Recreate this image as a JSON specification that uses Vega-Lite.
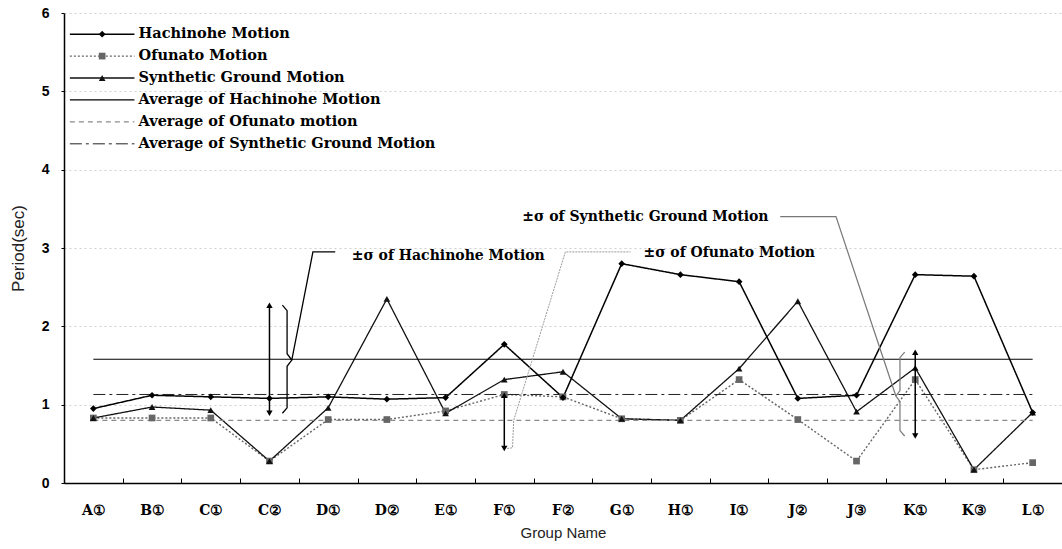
{
  "$schema": "https://vega.github.io/schema/vega-lite/v6.json",
  "width": 998,
  "height": 470,
  "autosize": {"type": "none"},
  "padding": {"left": 64, "top": 13, "right": 0, "bottom": 66},
  "config": {"view": {"stroke": null}, "font": "Liberation Sans"},
  "datasets": {
    "series": [
      {"s": "Ofunato", "g": "A①", "v": 0.83}, {"s": "Ofunato", "g": "B①", "v": 0.83}, {"s": "Ofunato", "g": "C①", "v": 0.83},
      {"s": "Ofunato", "g": "C②", "v": 0.28}, {"s": "Ofunato", "g": "D①", "v": 0.81}, {"s": "Ofunato", "g": "D②", "v": 0.81},
      {"s": "Ofunato", "g": "E①", "v": 0.92}, {"s": "Ofunato", "g": "F①", "v": 1.13}, {"s": "Ofunato", "g": "F②", "v": 1.10},
      {"s": "Ofunato", "g": "G①", "v": 0.82}, {"s": "Ofunato", "g": "H①", "v": 0.80}, {"s": "Ofunato", "g": "I①", "v": 1.32},
      {"s": "Ofunato", "g": "J②", "v": 0.81}, {"s": "Ofunato", "g": "J③", "v": 0.28}, {"s": "Ofunato", "g": "K①", "v": 1.32},
      {"s": "Ofunato", "g": "K③", "v": 0.17}, {"s": "Ofunato", "g": "L①", "v": 0.26},
      {"s": "Synthetic", "g": "A①", "v": 0.83}, {"s": "Synthetic", "g": "B①", "v": 0.97}, {"s": "Synthetic", "g": "C①", "v": 0.93},
      {"s": "Synthetic", "g": "C②", "v": 0.28}, {"s": "Synthetic", "g": "D①", "v": 0.96}, {"s": "Synthetic", "g": "D②", "v": 2.35},
      {"s": "Synthetic", "g": "E①", "v": 0.89}, {"s": "Synthetic", "g": "F①", "v": 1.32}, {"s": "Synthetic", "g": "F②", "v": 1.42},
      {"s": "Synthetic", "g": "G①", "v": 0.82}, {"s": "Synthetic", "g": "H①", "v": 0.80}, {"s": "Synthetic", "g": "I①", "v": 1.46},
      {"s": "Synthetic", "g": "J②", "v": 2.32}, {"s": "Synthetic", "g": "J③", "v": 0.91}, {"s": "Synthetic", "g": "K①", "v": 1.47},
      {"s": "Synthetic", "g": "K③", "v": 0.17}, {"s": "Synthetic", "g": "L①", "v": 0.90},
      {"s": "Hachinohe", "g": "A①", "v": 0.95}, {"s": "Hachinohe", "g": "B①", "v": 1.12}, {"s": "Hachinohe", "g": "C①", "v": 1.10},
      {"s": "Hachinohe", "g": "C②", "v": 1.08}, {"s": "Hachinohe", "g": "D①", "v": 1.10}, {"s": "Hachinohe", "g": "D②", "v": 1.07},
      {"s": "Hachinohe", "g": "E①", "v": 1.09}, {"s": "Hachinohe", "g": "F①", "v": 1.77}, {"s": "Hachinohe", "g": "F②", "v": 1.09},
      {"s": "Hachinohe", "g": "G①", "v": 2.80}, {"s": "Hachinohe", "g": "H①", "v": 2.66}, {"s": "Hachinohe", "g": "I①", "v": 2.57},
      {"s": "Hachinohe", "g": "J②", "v": 1.08}, {"s": "Hachinohe", "g": "J③", "v": 1.12}, {"s": "Hachinohe", "g": "K①", "v": 2.66},
      {"s": "Hachinohe", "g": "K③", "v": 2.64}, {"s": "Hachinohe", "g": "L①", "v": 0.90},
      {"s": "AvgH", "g": "A①", "v": 1.58}, {"s": "AvgH", "g": "L①", "v": 1.58},
      {"s": "AvgO", "g": "A①", "v": 0.80}, {"s": "AvgO", "g": "L①", "v": 0.80},
      {"s": "AvgS", "g": "A①", "v": 1.13}, {"s": "AvgS", "g": "L①", "v": 1.13}
    ],
    "arrows": [
      {"g": "C②", "lo": 0.89, "hi": 2.27},
      {"g": "F①", "lo": 0.44, "hi": 1.12},
      {"g": "K①", "lo": 0.60, "hi": 1.67}
    ],
    "paths": [
      {"id": "Hbrace", "k": 1, "u": 3.72, "v": 2.27}, {"id": "Hbrace", "k": 2, "u": 3.80, "v": 2.20},
      {"id": "Hbrace", "k": 3, "u": 3.80, "v": 1.65}, {"id": "Hbrace", "k": 4, "u": 3.88, "v": 1.57},
      {"id": "Hbrace", "k": 5, "u": 3.80, "v": 1.49}, {"id": "Hbrace", "k": 6, "u": 3.80, "v": 0.96},
      {"id": "Hbrace", "k": 7, "u": 3.72, "v": 0.89},
      {"id": "Hlead", "k": 1, "u": 3.88, "v": 1.57}, {"id": "Hlead", "k": 2, "u": 4.24, "v": 2.95},
      {"id": "Hlead", "k": 3, "u": 4.62, "v": 2.95},
      {"id": "Olead", "k": 1, "u": 7.55, "v": 0.44}, {"id": "Olead", "k": 2, "u": 7.64, "v": 0.45},
      {"id": "Olead", "k": 3, "u": 7.66, "v": 0.80}, {"id": "Olead", "k": 4, "u": 8.54, "v": 2.95},
      {"id": "Olead", "k": 5, "u": 9.65, "v": 2.95},
      {"id": "Sbrace", "k": 1, "u": 14.32, "v": 1.67}, {"id": "Sbrace", "k": 2, "u": 14.24, "v": 1.60},
      {"id": "Sbrace", "k": 3, "u": 14.24, "v": 1.18}, {"id": "Sbrace", "k": 4, "u": 14.17, "v": 1.11},
      {"id": "Sbrace", "k": 5, "u": 14.24, "v": 1.04}, {"id": "Sbrace", "k": 6, "u": 14.24, "v": 0.67},
      {"id": "Sbrace", "k": 7, "u": 14.32, "v": 0.60},
      {"id": "Slead", "k": 1, "u": 14.17, "v": 1.11}, {"id": "Slead", "k": 2, "u": 13.15, "v": 3.40},
      {"id": "Slead", "k": 3, "u": 12.2, "v": 3.40}
    ],
    "notes": [
      {"t": "±σ of Hachinohe Motion", "u": 4.9, "v": 2.9, "side": "left"},
      {"t": "±σ of Ofunato Motion", "u": 9.87, "v": 2.93, "side": "left"},
      {"t": "±σ of Synthetic Ground Motion", "u": 12.0, "v": 3.4, "side": "right"}
    ],
    "legend": [
      {"s": "Hachinohe", "label": "Hachinohe Motion", "v": 5.73},
      {"s": "Ofunato", "label": "Ofunato Motion", "v": 5.45},
      {"s": "Synthetic", "label": "Synthetic Ground Motion", "v": 5.17},
      {"s": "AvgH", "label": "Average of Hachinohe Motion", "v": 4.89},
      {"s": "AvgO", "label": "Average of Ofunato motion", "v": 4.61},
      {"s": "AvgS", "label": "Average of Synthetic Ground Motion", "v": 4.33}
    ]
  },
  "resolve": {"scale": {"x": "independent"}},
  "layer": [
    {
      "data": {"name": "series"},
      "encoding": {
        "x": {
          "field": "g", "type": "nominal",
          "scale": {"type": "band", "paddingInner": 0, "paddingOuter": 0,
            "domain": ["A①","B①","C①","C②","D①","D②","E①","F①","F②","G①","H①","I①","J②","J③","K①","K③","L①"]},
          "axis": {
            "title": "Group Name", "tickBand": "extent", "labelAngle": 0,
            "labelFont": "DejaVu Serif", "labelFontWeight": "bold", "labelFontSize": 14, "labelColor": "#000",
            "labelPadding": 25, "tickSize": -5, "tickColor": "#000", "domainColor": "#000", "domainWidth": 1.5,
            "titleFont": "Liberation Sans", "titleFontSize": 15, "titleFontWeight": "normal", "titleColor": "#222", "titlePadding": 8
          }
        },
        "y": {
          "field": "v", "type": "quantitative",
          "scale": {"domain": [0, 6], "nice": false},
          "axis": {
            "orient": "left", "format": "d",
            "title": "Period(sec)", "values": [0,1,2,3,4,5,6], "grid": true, "gridDash": [2,3], "gridColor": "#aaa", "gridOpacity": 0.55,
            "labelFont": "Liberation Sans", "labelFontWeight": "bold", "labelFontSize": 14, "labelColor": "#000", "labelPadding": 12,
            "tickSize": 3, "tickColor": "#000", "domainColor": "#000", "domainWidth": 1.5,
            "titleFont": "Liberation Sans", "titleFontSize": 17, "titleFontWeight": "normal", "titleColor": "#222", "titlePadding": 14
          }
        }
      },
      "layer": [
        {
          "mark": {"type": "line"},
          "encoding": {
            "color": {"field": "s", "type": "nominal", "legend": null,
              "scale": {"domain": ["Hachinohe","Ofunato","Synthetic","AvgH","AvgO","AvgS"], "range": ["#000","#666","#111","#000","#8a8a8a","#222"]}},
            "strokeDash": {"field": "s", "type": "nominal", "legend": null,
              "scale": {"domain": ["Hachinohe","Ofunato","Synthetic","AvgH","AvgO","AvgS"], "range": [[1,0],[2,2],[1,0],[1,0],[5,4],[12,4,3,4]]}},
            "strokeWidth": {"field": "s", "type": "ordinal", "legend": null,
              "scale": {"domain": ["Hachinohe","Ofunato","Synthetic","AvgH","AvgO","AvgS"], "range": [1.5,1,1,1.3,1,1.2]}}
          }
        },
        {
          "transform": [{"filter": {"field": "s", "oneOf": ["Ofunato","Synthetic","Hachinohe"]}}],
          "mark": {"type": "point", "filled": true, "opacity": 1, "size": 45},
          "encoding": {
            "shape": {"field": "s", "type": "nominal", "legend": null,
              "scale": {"domain": ["Hachinohe","Ofunato","Synthetic"], "range": ["diamond","square","triangle-up"]}},
            "color": {"field": "s", "type": "nominal", "legend": null}
          }
        },
        {
          "data": {"name": "arrows"},
          "mark": {"type": "rule", "color": "#000", "strokeWidth": 1.5},
          "encoding": {"y": {"field": "lo", "type": "quantitative"}, "y2": {"field": "hi"}}
        },
        {
          "data": {"name": "arrows"},
          "mark": {"type": "point", "shape": "triangle-up", "filled": true, "color": "#000", "size": 40, "opacity": 1},
          "encoding": {"y": {"field": "hi", "type": "quantitative"}}
        },
        {
          "data": {"name": "arrows"},
          "mark": {"type": "point", "shape": "triangle-down", "filled": true, "color": "#000", "size": 40, "opacity": 1},
          "encoding": {"y": {"field": "lo", "type": "quantitative"}}
        }
      ]
    },
    {
      "layer": [
        {
          "data": {"name": "paths"},
          "transform": [{"filter": {"field": "id", "oneOf": ["Hbrace","Hlead"]}}],
          "mark": {"type": "line", "color": "#000", "strokeWidth": 1.3},
          "encoding": {
            "x": {"field": "u", "type": "quantitative", "scale": {"domain": [0, 17], "nice": false, "zero": false}, "axis": null},
            "y": {"field": "v", "type": "quantitative"},
            "detail": {"field": "id"},
            "order": {"field": "k", "type": "quantitative"}
          }
        },
        {
          "data": {"name": "paths"},
          "transform": [{"filter": {"field": "id", "oneOf": ["Olead"]}}],
          "mark": {"type": "line", "color": "#9a9a9a", "strokeWidth": 1, "strokeDash": [2, 1]},
          "encoding": {
            "x": {"field": "u", "type": "quantitative", "axis": null},
            "y": {"field": "v", "type": "quantitative"},
            "detail": {"field": "id"},
            "order": {"field": "k", "type": "quantitative"}
          }
        },
        {
          "data": {"name": "paths"},
          "transform": [{"filter": {"field": "id", "oneOf": ["Sbrace","Slead"]}}],
          "mark": {"type": "line", "color": "#777", "strokeWidth": 1.2},
          "encoding": {
            "x": {"field": "u", "type": "quantitative", "axis": null},
            "y": {"field": "v", "type": "quantitative"},
            "detail": {"field": "id"},
            "order": {"field": "k", "type": "quantitative"}
          }
        },
        {
          "data": {"name": "notes"},
          "transform": [{"filter": "datum.side == 'left'"}],
          "mark": {"type": "text", "align": "left", "baseline": "middle", "font": "DejaVu Serif", "fontWeight": "bold", "fontSize": 14, "color": "#000"},
          "encoding": {
            "x": {"field": "u", "type": "quantitative", "axis": null},
            "y": {"field": "v", "type": "quantitative"},
            "text": {"field": "t"}
          }
        },
        {
          "data": {"name": "notes"},
          "transform": [{"filter": "datum.side == 'right'"}],
          "mark": {"type": "text", "align": "right", "baseline": "middle", "font": "DejaVu Serif", "fontWeight": "bold", "fontSize": 14, "color": "#000"},
          "encoding": {
            "x": {"field": "u", "type": "quantitative", "axis": null},
            "y": {"field": "v", "type": "quantitative"},
            "text": {"field": "t"}
          }
        },
        {
          "data": {"name": "legend"},
          "mark": {"type": "rule"},
          "encoding": {
            "x": {"datum": 0.1, "type": "quantitative", "axis": null},
            "x2": {"datum": 1.2},
            "y": {"field": "v", "type": "quantitative"},
            "color": {"field": "s", "type": "nominal", "legend": null},
            "strokeDash": {"field": "s", "type": "nominal", "legend": null},
            "strokeWidth": {"field": "s", "type": "ordinal", "legend": null}
          }
        },
        {
          "data": {"name": "legend"},
          "transform": [{"filter": {"field": "s", "oneOf": ["Ofunato","Synthetic","Hachinohe"]}}],
          "mark": {"type": "point", "filled": true, "opacity": 1, "size": 45},
          "encoding": {
            "x": {"datum": 0.65, "type": "quantitative", "axis": null},
            "y": {"field": "v", "type": "quantitative"},
            "shape": {"field": "s", "type": "nominal", "legend": null},
            "color": {"field": "s", "type": "nominal", "legend": null}
          }
        },
        {
          "data": {"name": "legend"},
          "mark": {"type": "text", "align": "left", "baseline": "middle", "font": "DejaVu Serif", "fontWeight": "bold", "fontSize": 14.5, "color": "#000"},
          "encoding": {
            "x": {"datum": 1.27, "type": "quantitative", "axis": null},
            "y": {"field": "v", "type": "quantitative"},
            "text": {"field": "label"}
          }
        }
      ]
    }
  ]
}
